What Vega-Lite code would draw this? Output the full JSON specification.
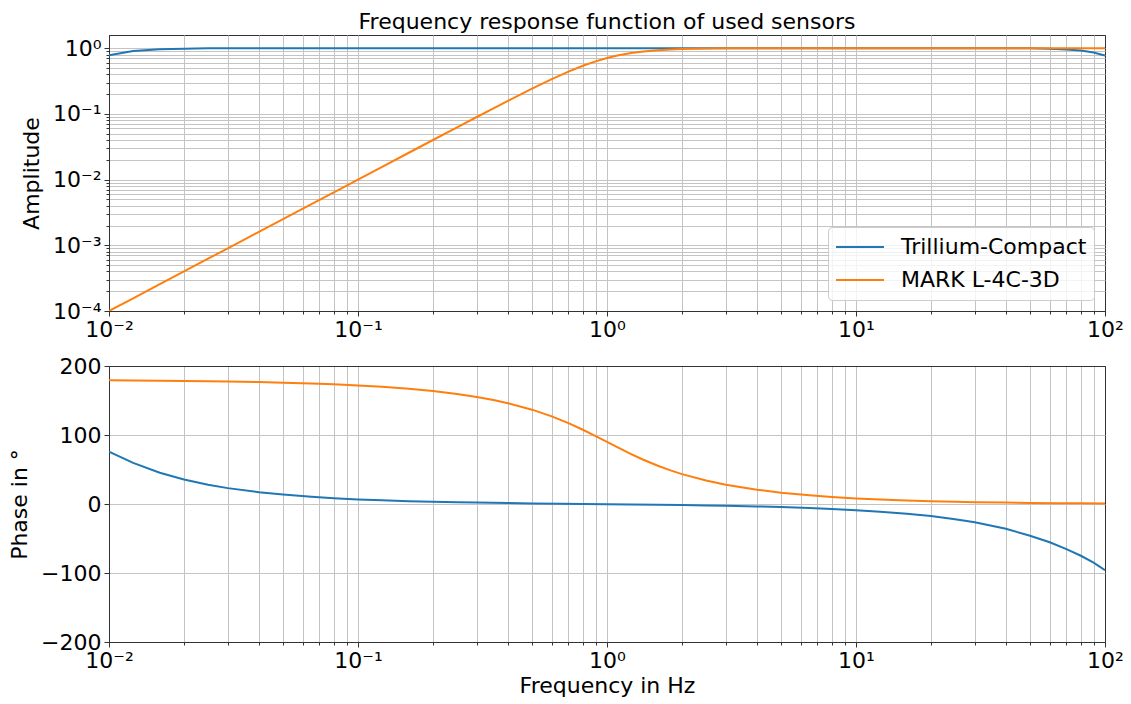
{
  "$schema": "https://vega.github.io/schema/vega-lite/v6.json",
  "background": "white",
  "padding": {"left": 8, "top": 10, "right": 5, "bottom": 5},
  "bounds": "flush",
  "spacing": 55,
  "resolve": {"legend": {"color": "independent"}},
  "config": {
    "font": "DejaVu Sans",
    "view": {"stroke": "#333333", "strokeWidth": 1},
    "axis": {
      "labelFont": "DejaVu Sans", "labelFontSize": 22, "labelColor": "#000000",
      "titleFont": "DejaVu Sans", "titleFontSize": 22, "titleFontWeight": "normal", "titleColor": "#000000",
      "tickColor": "#333333", "domainColor": "#333333", "domainWidth": 1,
      "gridWidth": 1, "labelFlush": false, "labelOverlap": false, "labelPadding": 3, "titlePadding": 9
    }
  },
  "datasets": {
    "d": [
      {"f": 0.01, "sensor": "Trillium-Compact", "amp": 0.78, "ph": 76},
      {"f": 0.0125, "sensor": "Trillium-Compact", "amp": 0.905, "ph": 59.5},
      {"f": 0.016, "sensor": "Trillium-Compact", "amp": 0.96, "ph": 45.3},
      {"f": 0.02, "sensor": "Trillium-Compact", "amp": 0.982, "ph": 35.5},
      {"f": 0.025, "sensor": "Trillium-Compact", "amp": 0.992, "ph": 27.9},
      {"f": 0.03, "sensor": "Trillium-Compact", "amp": 0.995, "ph": 23.0},
      {"f": 0.04, "sensor": "Trillium-Compact", "amp": 0.998, "ph": 17.1},
      {"f": 0.05, "sensor": "Trillium-Compact", "amp": 0.999, "ph": 13.6},
      {"f": 0.065, "sensor": "Trillium-Compact", "amp": 1.0, "ph": 10.4},
      {"f": 0.08, "sensor": "Trillium-Compact", "amp": 1.0, "ph": 8.4},
      {"f": 0.1, "sensor": "Trillium-Compact", "amp": 1.0, "ph": 6.7},
      {"f": 0.125, "sensor": "Trillium-Compact", "amp": 1.0, "ph": 5.3},
      {"f": 0.16, "sensor": "Trillium-Compact", "amp": 1.0, "ph": 4.1},
      {"f": 0.2, "sensor": "Trillium-Compact", "amp": 1.0, "ph": 3.2},
      {"f": 0.25, "sensor": "Trillium-Compact", "amp": 1.0, "ph": 2.5},
      {"f": 0.3, "sensor": "Trillium-Compact", "amp": 1.0, "ph": 2.0},
      {"f": 0.4, "sensor": "Trillium-Compact", "amp": 1.0, "ph": 1.3},
      {"f": 0.5, "sensor": "Trillium-Compact", "amp": 1.0, "ph": 0.9},
      {"f": 0.65, "sensor": "Trillium-Compact", "amp": 1.0, "ph": 0.45},
      {"f": 0.8, "sensor": "Trillium-Compact", "amp": 1.0, "ph": 0.1},
      {"f": 1, "sensor": "Trillium-Compact", "amp": 1.0, "ph": -0.3},
      {"f": 1.25, "sensor": "Trillium-Compact", "amp": 1.0, "ph": -0.6},
      {"f": 1.6, "sensor": "Trillium-Compact", "amp": 1.0, "ph": -1.1},
      {"f": 2, "sensor": "Trillium-Compact", "amp": 1.0, "ph": -1.5},
      {"f": 2.5, "sensor": "Trillium-Compact", "amp": 1.0, "ph": -2.1},
      {"f": 3, "sensor": "Trillium-Compact", "amp": 1.0, "ph": -2.6},
      {"f": 4, "sensor": "Trillium-Compact", "amp": 1.0, "ph": -3.5},
      {"f": 5, "sensor": "Trillium-Compact", "amp": 1.0, "ph": -4.5},
      {"f": 6.5, "sensor": "Trillium-Compact", "amp": 1.0, "ph": -5.9},
      {"f": 8, "sensor": "Trillium-Compact", "amp": 1.0, "ph": -7.3},
      {"f": 10, "sensor": "Trillium-Compact", "amp": 1.0, "ph": -9.0},
      {"f": 12.5, "sensor": "Trillium-Compact", "amp": 1.0, "ph": -11.3},
      {"f": 16, "sensor": "Trillium-Compact", "amp": 1.0, "ph": -14.3},
      {"f": 20, "sensor": "Trillium-Compact", "amp": 1.0, "ph": -17.5},
      {"f": 25, "sensor": "Trillium-Compact", "amp": 0.999, "ph": -22.0},
      {"f": 30, "sensor": "Trillium-Compact", "amp": 0.998, "ph": -26.5},
      {"f": 40, "sensor": "Trillium-Compact", "amp": 0.997, "ph": -36.0},
      {"f": 50, "sensor": "Trillium-Compact", "amp": 0.992, "ph": -46.0},
      {"f": 60, "sensor": "Trillium-Compact", "amp": 0.98, "ph": -55.5},
      {"f": 70, "sensor": "Trillium-Compact", "amp": 0.955, "ph": -65.5},
      {"f": 80, "sensor": "Trillium-Compact", "amp": 0.92, "ph": -75.0},
      {"f": 90, "sensor": "Trillium-Compact", "amp": 0.86, "ph": -85.0},
      {"f": 100, "sensor": "Trillium-Compact", "amp": 0.77, "ph": -96.0},
      {"f": 0.01, "sensor": "MARK L-4C-3D", "amp": 0.0001, "ph": 179.2},
      {"f": 0.0125, "sensor": "MARK L-4C-3D", "amp": 0.00015625, "ph": 179.0},
      {"f": 0.016, "sensor": "MARK L-4C-3D", "amp": 0.000256, "ph": 178.7},
      {"f": 0.02, "sensor": "MARK L-4C-3D", "amp": 0.0004, "ph": 178.4},
      {"f": 0.025, "sensor": "MARK L-4C-3D", "amp": 0.000625, "ph": 178.0},
      {"f": 0.03, "sensor": "MARK L-4C-3D", "amp": 0.0009, "ph": 177.6},
      {"f": 0.04, "sensor": "MARK L-4C-3D", "amp": 0.0016, "ph": 176.8},
      {"f": 0.05, "sensor": "MARK L-4C-3D", "amp": 0.0025, "ph": 175.9},
      {"f": 0.065, "sensor": "MARK L-4C-3D", "amp": 0.00423, "ph": 174.7},
      {"f": 0.08, "sensor": "MARK L-4C-3D", "amp": 0.0064, "ph": 173.5},
      {"f": 0.1, "sensor": "MARK L-4C-3D", "amp": 0.01, "ph": 171.9},
      {"f": 0.125, "sensor": "MARK L-4C-3D", "amp": 0.0156, "ph": 169.8},
      {"f": 0.16, "sensor": "MARK L-4C-3D", "amp": 0.0256, "ph": 166.9},
      {"f": 0.2, "sensor": "MARK L-4C-3D", "amp": 0.04, "ph": 163.6},
      {"f": 0.25, "sensor": "MARK L-4C-3D", "amp": 0.0624, "ph": 159.3},
      {"f": 0.3, "sensor": "MARK L-4C-3D", "amp": 0.0896, "ph": 155.0},
      {"f": 0.35, "sensor": "MARK L-4C-3D", "amp": 0.1216, "ph": 150.6},
      {"f": 0.4, "sensor": "MARK L-4C-3D", "amp": 0.158, "ph": 146.0},
      {"f": 0.5, "sensor": "MARK L-4C-3D", "amp": 0.2425, "ph": 136.7},
      {"f": 0.6, "sensor": "MARK L-4C-3D", "amp": 0.3387, "ph": 127.0},
      {"f": 0.7, "sensor": "MARK L-4C-3D", "amp": 0.44, "ph": 117.3},
      {"f": 0.8, "sensor": "MARK L-4C-3D", "amp": 0.539, "ph": 107.6},
      {"f": 0.9, "sensor": "MARK L-4C-3D", "amp": 0.629, "ph": 98.5},
      {"f": 1, "sensor": "MARK L-4C-3D", "amp": 0.707, "ph": 90.0},
      {"f": 1.1, "sensor": "MARK L-4C-3D", "amp": 0.771, "ph": 82.3},
      {"f": 1.25, "sensor": "MARK L-4C-3D", "amp": 0.842, "ph": 72.4},
      {"f": 1.4, "sensor": "MARK L-4C-3D", "amp": 0.891, "ph": 64.1},
      {"f": 1.6, "sensor": "MARK L-4C-3D", "amp": 0.932, "ph": 55.4},
      {"f": 1.8, "sensor": "MARK L-4C-3D", "amp": 0.956, "ph": 48.7},
      {"f": 2, "sensor": "MARK L-4C-3D", "amp": 0.97, "ph": 43.3},
      {"f": 2.5, "sensor": "MARK L-4C-3D", "amp": 0.988, "ph": 34.0},
      {"f": 3, "sensor": "MARK L-4C-3D", "amp": 0.994, "ph": 27.9},
      {"f": 4, "sensor": "MARK L-4C-3D", "amp": 0.998, "ph": 20.7},
      {"f": 5, "sensor": "MARK L-4C-3D", "amp": 0.999, "ph": 16.4},
      {"f": 6.5, "sensor": "MARK L-4C-3D", "amp": 1.0, "ph": 12.6},
      {"f": 8, "sensor": "MARK L-4C-3D", "amp": 1.0, "ph": 10.2},
      {"f": 10, "sensor": "MARK L-4C-3D", "amp": 1.0, "ph": 8.1},
      {"f": 12.5, "sensor": "MARK L-4C-3D", "amp": 1.0, "ph": 6.5},
      {"f": 16, "sensor": "MARK L-4C-3D", "amp": 1.0, "ph": 5.1},
      {"f": 20, "sensor": "MARK L-4C-3D", "amp": 1.0, "ph": 4.1},
      {"f": 25, "sensor": "MARK L-4C-3D", "amp": 1.0, "ph": 3.2},
      {"f": 30, "sensor": "MARK L-4C-3D", "amp": 1.0, "ph": 2.7},
      {"f": 40, "sensor": "MARK L-4C-3D", "amp": 1.0, "ph": 2.0},
      {"f": 50, "sensor": "MARK L-4C-3D", "amp": 1.0, "ph": 1.6},
      {"f": 65, "sensor": "MARK L-4C-3D", "amp": 1.0, "ph": 1.25},
      {"f": 80, "sensor": "MARK L-4C-3D", "amp": 1.0, "ph": 1.0},
      {"f": 100, "sensor": "MARK L-4C-3D", "amp": 1.0, "ph": 0.8}
    ]
  },
  "vconcat": [
    {
      "data": {"name": "d"},
      "width": 996,
      "height": 276,
      "title": {"text": "Frequency response function of used sensors", "font": "DejaVu Sans", "fontSize": 22, "fontWeight": "normal", "color": "#000000", "anchor": "middle", "frame": "group", "baseline": "alphabetic", "offset": -16},
      "encoding": {
        "x": {"field": "f", "type": "quantitative",
          "scale": {"type": "log", "domain": [0.01, 100], "nice": false},
          "axis": {"title": null,
            "values": [0.01,0.02,0.03,0.04,0.05,0.06,0.07,0.08,0.09,0.1,0.2,0.3,0.4,0.5,0.6,0.7,0.8,0.9,1,2,3,4,5,6,7,8,9,10,20,30,40,50,60,70,80,90,100],
            "labelExpr": "datum.value == 0.01 ? '10⁻²' : datum.value == 0.1 ? '10⁻¹' : datum.value == 1 ? '10⁰' : datum.value == 10 ? '10¹' : datum.value == 100 ? '10²' : ''",
            "tickSize": {"condition": {"test": "indexof([0.01,0.1,1,10,100], datum.value) >= 0", "value": 5}, "value": 3},
            "gridColor": {"condition": {"test": "datum.value == 0.01 || datum.value == 100", "value": "#333333"}, "value": "#c4c4c4"}
          }
        },
        "y": {"field": "amp", "type": "quantitative",
          "scale": {"type": "log", "domain": [0.0001, 1.585], "nice": false},
          "axis": {"title": "Amplitude",
            "values": [0.0001,0.0002,0.0003,0.0004,0.0005,0.0006,0.0007,0.0008,0.0009,0.001,0.002,0.003,0.004,0.005,0.006,0.007,0.008,0.009,0.01,0.02,0.03,0.04,0.05,0.06,0.07,0.08,0.09,0.1,0.2,0.3,0.4,0.5,0.6,0.7,0.8,0.9,1],
            "labelExpr": "datum.value == 1 ? '10⁰' : datum.value == 0.1 ? '10⁻¹' : datum.value == 0.01 ? '10⁻²' : datum.value == 0.001 ? '10⁻³' : datum.value == 0.0001 ? '10⁻⁴' : ''",
            "tickSize": {"condition": {"test": "indexof([0.0001,0.001,0.01,0.1,1], datum.value) >= 0", "value": 5}, "value": 3},
            "gridColor": {"condition": {"test": "datum.value == 0.0001", "value": "#333333"}, "value": "#c4c4c4"}
          }
        },
        "color": {"field": "sensor", "type": "nominal",
          "scale": {"domain": ["Trillium-Compact", "MARK L-4C-3D"], "range": ["#1f77b4", "#ff7f0e"]},
          "legend": {"title": null, "orient": "bottom-right", "offset": 11, "symbolType": "stroke", "symbolSize": 2304, "symbolStrokeWidth": 2, "clipHeight": 26, "rowPadding": 7, "padding": 7, "labelFont": "DejaVu Sans", "labelFontSize": 22, "labelColor": "#000000", "labelOffset": 16, "labelLimit": 400, "fillColor": "rgba(255,255,255,0.8)", "strokeColor": "#cccccc", "cornerRadius": 4}
        }
      },
      "layer": [
        {"transform": [{"filter": "datum.sensor == 'Trillium-Compact'"}], "mark": {"type": "line", "strokeWidth": 2, "clip": true}, "encoding": {}},
        {"transform": [{"filter": "datum.sensor == 'MARK L-4C-3D'"}], "mark": {"type": "line", "strokeWidth": 2, "clip": true}, "encoding": {}}
      ]
    },
    {
      "data": {"name": "d"},
      "width": 996,
      "height": 276,
      "encoding": {
        "x": {"field": "f", "type": "quantitative",
          "scale": {"type": "log", "domain": [0.01, 100], "nice": false},
          "axis": {"title": "Frequency in Hz", "titlePadding": 4,
            "values": [0.01,0.02,0.03,0.04,0.05,0.06,0.07,0.08,0.09,0.1,0.2,0.3,0.4,0.5,0.6,0.7,0.8,0.9,1,2,3,4,5,6,7,8,9,10,20,30,40,50,60,70,80,90,100],
            "labelExpr": "datum.value == 0.01 ? '10⁻²' : datum.value == 0.1 ? '10⁻¹' : datum.value == 1 ? '10⁰' : datum.value == 10 ? '10¹' : datum.value == 100 ? '10²' : ''",
            "tickSize": {"condition": {"test": "indexof([0.01,0.1,1,10,100], datum.value) >= 0", "value": 5}, "value": 3},
            "gridColor": {"condition": {"test": "datum.value == 0.01 || datum.value == 100", "value": "#333333"}, "value": "#c4c4c4"}
          }
        },
        "y": {"field": "ph", "type": "quantitative",
          "scale": {"type": "linear", "domain": [-200, 200], "nice": false},
          "axis": {"title": "Phase in °", "values": [-200, -100, 0, 100, 200], "tickSize": 5,
            "gridColor": {"condition": {"test": "datum.value == 200 || datum.value == -200", "value": "#333333"}, "value": "#c4c4c4"}
          }
        },
        "color": {"field": "sensor", "type": "nominal",
          "scale": {"domain": ["Trillium-Compact", "MARK L-4C-3D"], "range": ["#1f77b4", "#ff7f0e"]},
          "legend": null
        }
      },
      "layer": [
        {"transform": [{"filter": "datum.sensor == 'Trillium-Compact'"}], "mark": {"type": "line", "strokeWidth": 2, "clip": true}, "encoding": {}},
        {"transform": [{"filter": "datum.sensor == 'MARK L-4C-3D'"}], "mark": {"type": "line", "strokeWidth": 2, "clip": true}, "encoding": {}}
      ]
    }
  ]
}
